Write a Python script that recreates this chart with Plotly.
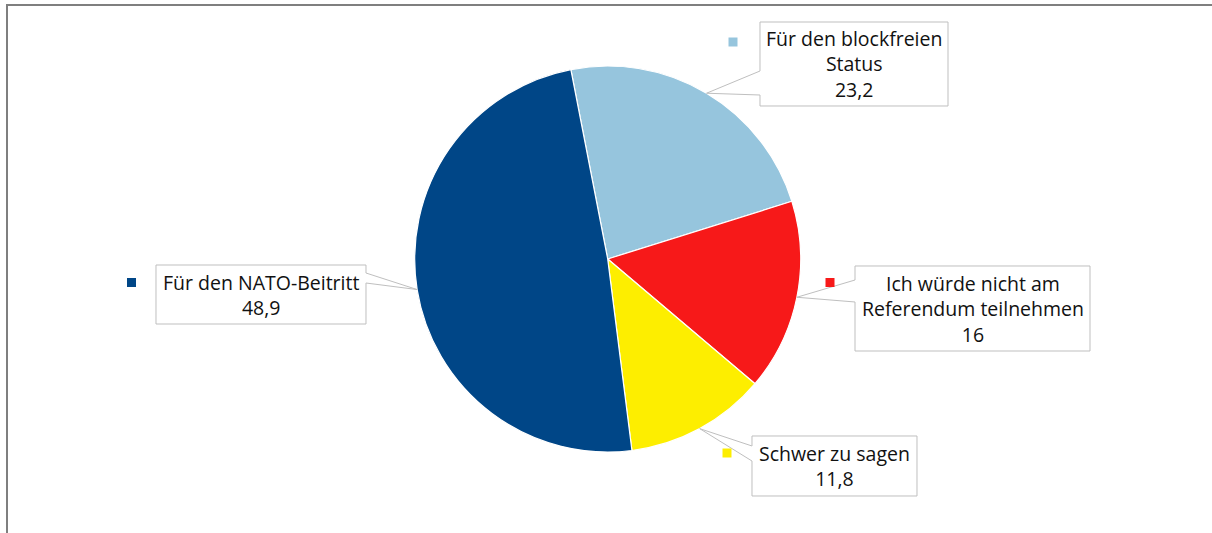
import math
import plotly.graph_objects as go

# ---- data ----
labels = ["Für den blockfreien<br>Status", "Ich würde nicht am<br>Referendum teilnehmen",
          "Schwer zu sagen", "Für den NATO-Beitritt"]
values = [23.2, 16, 11.8, 48.9]
colors = ["#96C5DD", "#F71919", "#FDEE00", "#004687"]

# ---- layout helpers (pixel -> paper) ----
W, H = 1212, 533
def px(x):
    return x / W
def py(y):
    return 1 - y / H

CX, CY, R = 607.7, 259.0, 193.0
ROT = -11.0

# callout boxes: (x0, y0, x1, y1, side, wedge_y0, wedge_y1, marker_cx, marker_cy)
boxes = [
    (760, 22, 948, 106, "left", 71, 95, 733, 42),
    (855, 266, 1090, 351, "left", 280, 302, 830, 282.5),
    (752, 436, 917, 496, "left", 446, 461, 727, 453),
    (156, 265, 366, 324, "right", 273, 283, 131.5, 282.5),
]

FONT = "Open Sans"
FS = 19.5

fig = go.Figure()
fig.add_trace(go.Pie(
    labels=[l.replace("<br>", " ") for l in labels],
    values=values,
    marker=dict(colors=colors, line=dict(color="white", width=1.2)),
    sort=False,
    direction="clockwise",
    rotation=ROT,
    textinfo="none",
    hoverinfo="label+value",
    showlegend=False,
    domain=dict(x=[px(CX - R), px(CX + R)], y=[py(CY + R), py(CY - R)]),
))

shapes = []
annotations = []
total = sum(values)
cum = 0.0
for lab, v, col, b in zip(labels, values, colors, boxes):
    mid = ROT + (cum + v / 2) / total * 360
    cum += v
    ax = CX + R * math.sin(math.radians(mid))
    ay = CY - R * math.cos(math.radians(mid))
    x0, y0, x1, y1, side, wy0, wy1, mx, my = b
    if side == "left":
        pts = [(x0, y0), (x1, y0), (x1, y1), (x0, y1), (x0, wy1), (ax, ay), (x0, wy0)]
    else:
        pts = [(x0, y0), (x1, y0), (x1, wy0), (ax, ay), (x1, wy1), (x1, y1), (x0, y1)]
    path = "M " + " L ".join(f"{px(a):.5f},{py(c):.5f}" for a, c in pts) + " Z"
    shapes.append(dict(type="path", xref="paper", yref="paper", path=path,
                       fillcolor="white", line=dict(color="#BFBFBF", width=1), layer="above"))
    shapes.append(dict(type="rect", xref="paper", yref="paper",
                       x0=px(mx - 4.5), x1=px(mx + 4.5), y0=py(my + 4.5), y1=py(my - 4.5),
                       fillcolor=col, line=dict(width=0), layer="above"))
    txt = lab + "<br>" + f"{v:g}".replace(".", ",")
    annotations.append(dict(xref="paper", yref="paper", x=px((x0 + x1) / 2), y=py((y0 + y1) / 2),
                            text=txt, showarrow=False, xanchor="center", yanchor="middle",
                            align="center", font=dict(family=FONT, size=FS, color="#111111")))

# outer frame
shapes.append(dict(type="rect", xref="paper", yref="paper",
                   x0=px(7), x1=px(W + 20), y0=py(H + 20), y1=py(5),
                   line=dict(color="#7F7F7F", width=2), fillcolor="rgba(0,0,0,0)", layer="above"))

fig.update_layout(
    width=W, height=H,
    margin=dict(l=0, r=0, t=0, b=0),
    paper_bgcolor="white", plot_bgcolor="white",
    shapes=shapes, annotations=annotations,
)
fig.write_html("out.html", config={"displayModeBar": False},
               post_script="document.body.style.margin='0';document.body.style.overflow='hidden';")
